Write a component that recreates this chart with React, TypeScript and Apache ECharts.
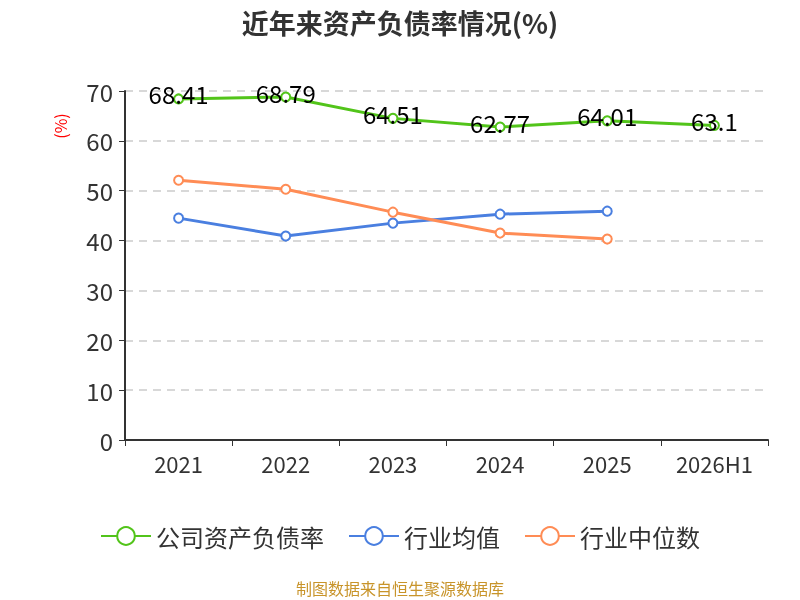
import { useEffect, useRef } from 'react';
import * as echarts from 'echarts';

const categories = ['2021', '2022', '2023', '2024', '2025', '2026H1'];
const companyRatio = [68.41, 68.79, 64.51, 62.77, 64.01, 63.1];
const industryAvg = [44.5, 40.9, 43.5, 45.3, 45.9, null];
const industryMedian = [52.1, 50.3, 45.7, 41.5, 40.3, null];

const FONT = '"Noto Sans CJK SC", "Noto Sans", sans-serif';

export default function App() {
  const chartRef = useRef<HTMLDivElement>(null);

  useEffect(() => {
    if (!chartRef.current) return;
    const chart = echarts.init(chartRef.current, null, { renderer: 'svg' });

    const lineSeries = (name: string, data: (number | null)[], color: string, withLabel: boolean) => ({
      name,
      type: 'line',
      data,
      symbol: 'emptyCircle',
      symbolSize: 9,
      lineStyle: { width: 3, color },
      itemStyle: { color, borderWidth: 1.5 },
      label: withLabel
        ? {
            show: true,
            position: 'inside',
            offset: [0, -5],
            color: '#000',
            fontSize: 24,
            fontFamily: FONT,
          }
        : { show: false },
    });

    const option: echarts.EChartsOption = {
      animation: false,
      title: {
        text: '近年来资产负债率情况(%)',
        left: 'center',
        top: 4,
        textStyle: { fontSize: 27, fontWeight: 'bold', color: '#333', fontFamily: FONT },
      },
      legend: {
        top: 519,
        left: 'center',
        itemWidth: 50,
        itemHeight: 22,
        itemGap: 24,
        textStyle: { fontSize: 24, color: '#333', fontFamily: FONT },
        data: ['公司资产负债率', '行业均值', '行业中位数'],
      },
      graphic: [
        {
          type: 'text',
          x: 60,
          y: 126,
          rotation: Math.PI / 2,
          style: { text: '(%)', fill: '#f00', fontSize: 16, fontFamily: FONT, align: 'center', verticalAlign: 'middle' },
        },
        {
          type: 'text',
          left: 'center',
          top: 580,
          style: { text: '制图数据来自恒生聚源数据库', fill: '#c8942a', fontSize: 16, fontFamily: FONT },
        },
      ],
      grid: { left: 125, right: 32, top: 91, bottom: 160 },
      xAxis: {
        type: 'category',
        data: categories,
        axisLine: { lineStyle: { color: '#333', width: 2 } },
        axisTick: { show: true, length: 6, lineStyle: { color: '#333' } },
        axisLabel: { fontSize: 22, color: '#333', margin: 12, fontFamily: FONT },
      },
      yAxis: {
        type: 'value',
        min: 0,
        max: 70,
        interval: 10,
        axisLine: { show: true, lineStyle: { color: '#333', width: 2 } },
        axisTick: { show: true, length: 6, lineStyle: { color: '#333' } },
        axisLabel: { fontSize: 24, color: '#333', margin: 12, fontFamily: FONT },
        splitLine: { lineStyle: { type: [8, 6], color: '#ccc', width: 1.5 } },
      },
      series: [
        lineSeries('公司资产负债率', companyRatio, '#52c41a', true),
        lineSeries('行业均值', industryAvg, '#4a7fe0', false),
        lineSeries('行业中位数', industryMedian, '#ff8c55', false),
      ] as any,
    };

    chart.setOption(option);
    return () => chart.dispose();
  }, []);

  return <div ref={chartRef} style={{ position: 'fixed', left: 0, top: 0, width: 800, height: 600 }} />;
}
